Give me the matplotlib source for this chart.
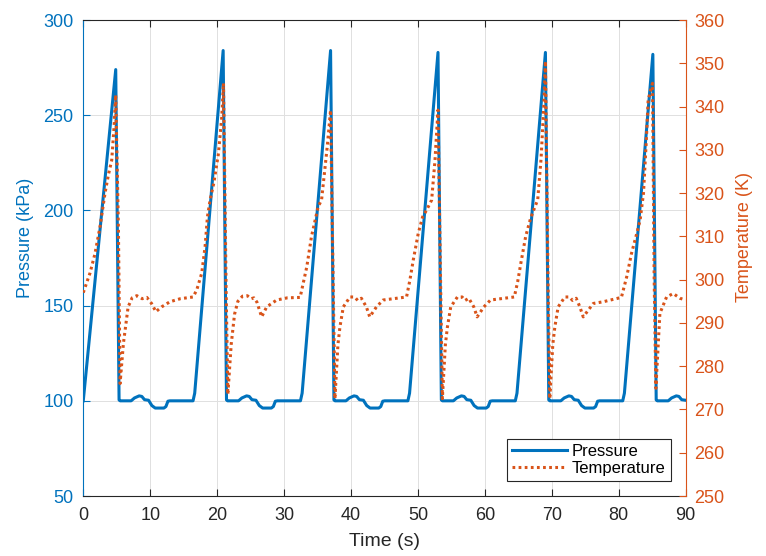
import matplotlib
matplotlib.use('Agg')
import matplotlib.pyplot as plt

plt.rcParams['font.family'] = ['Liberation Sans', 'DejaVu Sans']

# Pressure (kPa) vs time (s)
t_pres = [0.0, 4.85,
          5.35, 5.5, 7.15, 7.65, 8.35, 8.75, 9.15, 9.75, 10.25, 10.75, 12.05, 12.35, 12.65, 12.95, 16.4, 16.65, 20.9,
          21.4, 21.55, 23.2, 23.7, 24.4, 24.8, 25.2, 25.8, 26.3, 26.8, 28.1, 28.4, 28.7, 29.0, 32.45, 32.7, 36.95,
          37.45, 37.6, 39.25, 39.75, 40.45, 40.85, 41.25, 41.85, 42.35, 42.85, 44.15, 44.45, 44.75, 45.05, 48.5, 48.75, 53.0,
          53.5, 53.65, 55.3, 55.8, 56.5, 56.9, 57.3, 57.9, 58.4, 58.9, 60.2, 60.5, 60.8, 61.1, 64.55, 64.8, 69.05,
          69.55, 69.7, 71.35, 71.85, 72.55, 72.95, 73.35, 73.95, 74.45, 74.95, 76.25, 76.55, 76.85, 77.15, 80.6, 80.85, 85.1,
          85.6, 85.75, 87.4, 87.9, 88.6, 89.0, 89.4, 90.0]
pressure = [100, 274,
            100.5, 100, 100, 101.5, 102.6, 102.3, 100.6, 100.3, 97.5, 96.2, 96.2, 97, 99.8, 100, 100, 104, 284,
            100.5, 100, 100, 101.5, 102.6, 102.3, 100.6, 100.3, 97.5, 96.2, 96.2, 97, 99.8, 100, 100, 104, 284,
            100.5, 100, 100, 101.5, 102.6, 102.3, 100.6, 100.3, 97.5, 96.2, 96.2, 97, 99.8, 100, 100, 104, 283,
            100.5, 100, 100, 101.5, 102.6, 102.3, 100.6, 100.3, 97.5, 96.2, 96.2, 97, 99.8, 100, 100, 104, 283,
            100.5, 100, 100, 101.5, 102.6, 102.3, 100.6, 100.3, 97.5, 96.2, 96.2, 97, 99.8, 100, 100, 104, 282,
            100.5, 100, 100, 101.5, 102.6, 102.3, 100.6, 100.3]

# Temperature (K) vs time (s)
t_temp = [0.0, 1.0, 1.75, 2.5, 3.25, 3.75, 4.25, 4.6, 4.85, 5.25, 5.5,
          6.0, 6.7, 7.3, 8.0, 8.8, 9.5, 10.2, 10.85, 11.7, 12.95, 14.5, 16.4,
          16.95, 17.7, 18.2, 18.55, 18.95, 19.5, 20.2, 20.7, 20.95, 21.35, 21.6,
          22.1, 22.6, 23.1, 23.8, 24.5, 25.1, 25.5, 25.95, 26.65, 27.4, 28.9, 30.5, 32.4,
          33.4, 34.1, 35.1, 35.6, 36.45, 36.95, 37.35, 37.6,
          38.05, 38.35, 38.85, 39.85, 40.55, 41.0, 41.55, 42.3, 42.8, 43.8, 44.8, 48.3,
          48.8, 49.3, 50.05, 50.7, 51.3, 52.05, 52.55, 53.0, 53.4, 53.65,
          54.1, 54.4, 54.9, 55.9, 56.6, 57.05, 57.6, 58.35, 58.85, 59.85, 60.85, 64.4,
          64.9, 65.4, 66.1, 66.8, 67.4, 67.9, 68.4, 68.8, 69.05, 69.45, 69.7,
          70.15, 70.45, 70.95, 71.95, 72.65, 73.1, 73.65, 74.2, 74.7, 76.2, 77.7, 80.4,
          81.2, 81.9, 82.7, 83.2, 83.7, 84.1, 84.4, 85.05, 85.3, 85.55,
          86.15, 87.15, 88.15, 89.15, 90.0]
temperature = [297, 301.5, 306, 312.2, 320, 324.2, 327.6, 335.3, 342.7, 312, 276,
               285.3, 293.7, 295.8, 296.3, 295.6, 295.9, 294.5, 292.6, 293.7, 294.9, 295.6, 296,
               297.6, 301.5, 307.6, 314.5, 318.4, 322.3, 329.2, 337.7, 345.4, 297, 273.5,
               285, 292, 295, 296.2, 296.3, 295.6, 295.8, 294.8, 291.4, 293.7, 295.3, 295.8, 295.9,
               303, 310, 316.9, 318.4, 330.7, 339.2, 298, 272.5,
               285, 289.1, 293.7, 296, 296, 295.2, 295.7, 293.7, 291.4, 293.7, 295.3, 296,
               299.9, 304.5, 310.7, 314.5, 316.1, 318.4, 327.6, 339.2, 298, 272.5,
               285, 289, 293.7, 296, 296, 295.2, 295.7, 293.7, 291.4, 293.7, 295.3, 296,
               299.5, 304, 310, 314, 316.5, 318.5, 328, 340, 350.5, 298, 272.5,
               285, 289, 293.7, 296, 296, 295.2, 295.7, 293.7, 291.4, 294.5, 294.9, 295.9,
               300.7, 306, 310.7, 313.8, 320, 331.5, 341.5, 345.4, 300, 274.9,
               292.2, 296, 296.8, 295.7, 295.3]

x_ticks = [0, 10, 20, 30, 40, 50, 60, 70, 80, 90]
p_ticks = [50, 100, 150, 200, 250, 300]
t_ticks = [250, 260, 270, 280, 290, 300, 310, 320, 330, 340, 350, 360]

blue = '#0072BD'
orange = '#D95319'
dark = '#262626'

fig = plt.figure(figsize=(7.66, 5.56), dpi=100)
ax1 = fig.add_axes([0.1087, 0.1079, 0.7864, 0.856])
ax2 = ax1.twinx()

l1, = ax1.plot(t_pres, pressure, color=blue, lw=2.2, label='Pressure')
l2, = ax2.plot(t_temp, temperature, color=orange, lw=2.2, linestyle=(0, (0.9, 1.1)),
               label='Temperature')

ax1.set_xlim(0, 90)
ax1.set_ylim(50, 300)
ax2.set_ylim(250, 360)
ax1.set_xticks(x_ticks)
ax1.set_yticks(p_ticks)
ax2.set_yticks(t_ticks)

ax1.grid(True, color='#e0e0e0', lw=0.7)
ax1.set_axisbelow(True)

for s in ['left', 'right', 'top', 'bottom']:
    ax2.spines[s].set_visible(False)
ax2.spines['right'].set_visible(True)
ax2.spines['right'].set_color(orange)
ax1.spines['left'].set_color(blue)
ax1.spines['right'].set_visible(False)
ax1.spines['top'].set_color(dark)
ax1.spines['bottom'].set_color(dark)

ax1.tick_params(axis='x', direction='in', top=True, length=5, colors=dark, labelsize=13, pad=8)
ax1.tick_params(axis='y', direction='in', length=5, colors=blue, labelsize=13, pad=7)
ax2.tick_params(axis='y', direction='in', length=5, colors=orange, labelsize=13, pad=6)

ax1.set_xlabel('Time (s)', fontsize=14, color=dark)
ax1.set_ylabel('Pressure (kPa)', fontsize=13, color=blue)
ax2.set_ylabel('Temperature (K)', fontsize=13, color=orange)
ax1.xaxis.set_label_coords(0.5, -0.078)
ax1.yaxis.set_label_coords(-0.082, 0.542)
ax2.yaxis.set_label_coords(1.084, 0.545)

leg = ax2.legend([l1, l2], ['Pressure', 'Temperature'], loc='lower right', fontsize=12,
                 frameon=True, fancybox=False, edgecolor=dark, framealpha=1,
                 handlelength=3.3, borderaxespad=0.9, labelspacing=0.15,
                 borderpad=0.3, handletextpad=0.3)
leg.get_frame().set_linewidth(0.8)

fig.savefig('out.png', dpi=100)
